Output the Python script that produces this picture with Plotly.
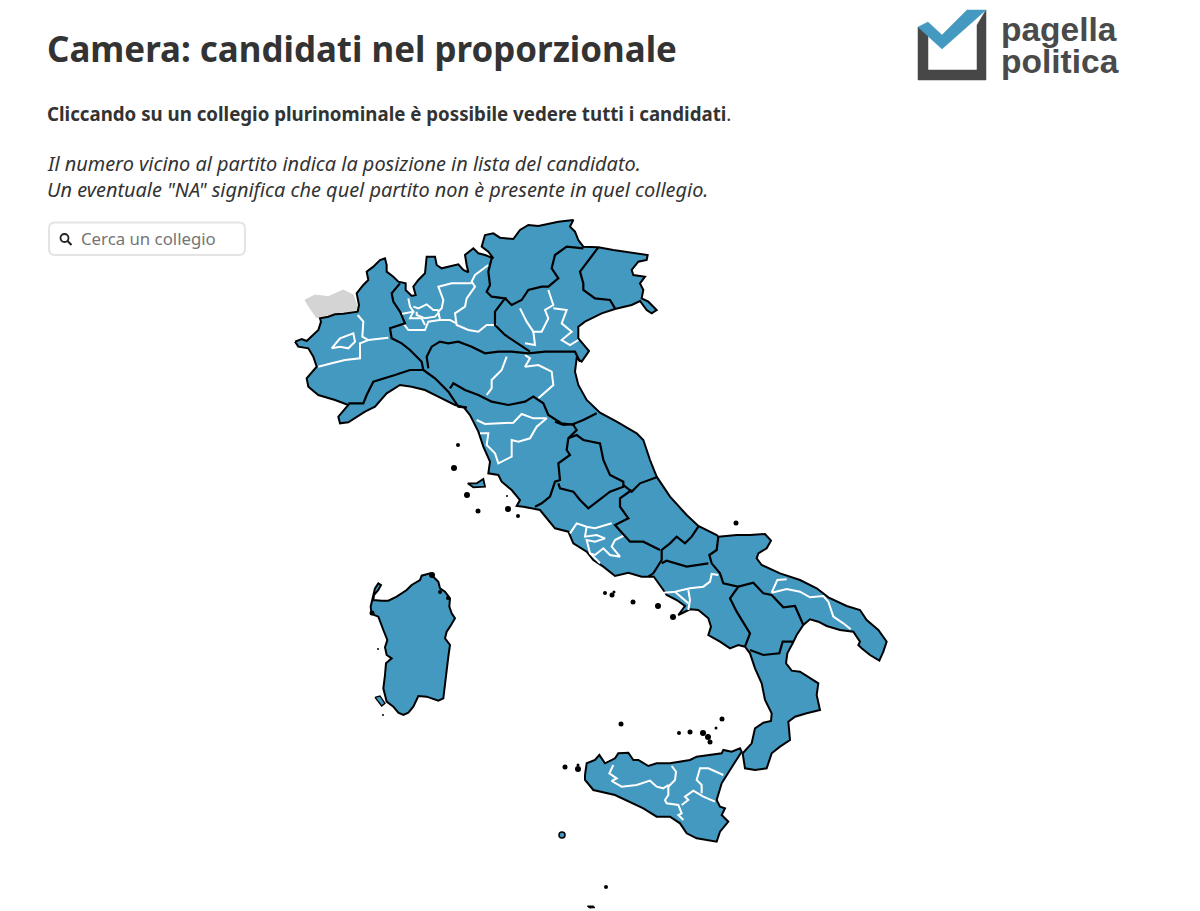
import plotly.graph_objects as go

BLUE = '#4499c1'
FONT = 'Noto Sans'

# crop origins of the zoomed views (3x) everything was read from
NORD = (285, 215)
CENTRO = (440, 400)
SUD = (640, 520)
SIC = (550, 700)
SARD = (350, 560)

coast_nord = [
    (30, 380), (50, 372), (65, 378), (85, 360), (100, 345), (108, 320), (105, 310), (130, 305), (150, 298),
    (175, 296), (200, 292), (218, 290), (222, 270), (215, 235), (235, 210), (250, 195), (245, 170), (265, 155),
    (285, 135), (300, 130), (305, 150), (305, 170), (325, 185), (340, 200), (362, 205), (362, 225), (380, 243),
    (392, 240), (385, 215), (400, 195), (420, 175), (425, 125), (450, 125), (455, 150), (470, 160), (490, 155),
    (520, 148), (535, 165), (550, 172), (545, 150), (540, 120), (565, 100), (580, 115), (600, 120), (625, 130),
    (610, 110), (590, 95), (600, 60), (625, 55), (645, 68), (685, 72), (705, 45), (730, 30), (760, 33),
    (785, 28), (820, 20), (865, 15), (855, 35), (870, 50), (880, 75), (895, 95), (940, 97), (985, 105),
    (1040, 112), (1088, 120), (1085, 135), (1060, 140), (1040, 165), (1045, 180), (1080, 185), (1065, 205),
    (1075, 225), (1070, 250), (1090, 260), (1115, 285), (1100, 295), (1085, 285), (1065, 258), (1040, 270),
    (990, 282), (950, 295), (900, 320), (880, 335), (880, 370), (912, 408), (890, 440), (875, 430), (870, 470),
    (880, 510), (905, 555), (940, 590),
]
coast_adriatico = [
    (480, 38), (530, 65), (590, 100), (610, 120), (630, 180), (650, 230), (690, 290), (740, 345), (775, 378),
    (830, 405),
]
coast_sud = [
    (235, 50), (290, 45), (330, 45), (375, 42), (393, 62), (380, 85), (355, 100), (350, 115), (365, 135),
    (420, 160), (480, 180), (530, 205), (565, 232), (620, 258), (660, 270), (680, 300), (715, 330), (740, 365),
    (730, 395), (718, 422), (690, 405), (665, 385), (655, 375), (660, 365), (640, 335), (600, 330), (560, 318),
    (535, 305), (510, 298), (490, 315), (470, 345), (458, 370), (442, 400), (438, 430), (455, 452), (480, 455),
    (510, 475), (535, 490), (530, 525), (540, 570), (500, 580), (465, 590), (445, 605), (450, 660), (420, 680),
    (395, 700), (380, 745), (345, 750), (315, 745), (308, 700), (335, 670), (345, 625), (370, 608), (393, 603),
    (395, 580), (375, 540), (365, 490), (345, 445), (330, 400), (315, 380), (295, 375), (270, 385), (240, 365),
    (205, 345), (213, 320), (205, 295), (175, 270), (150, 268), (115, 285), (135, 258), (110, 240), (80, 225),
    (70, 210), (55, 190), (40, 168),
]
coast_tirreno = [
    (640, 530), (605, 530), (565, 518), (525, 528), (490, 500), (460, 480), (440, 455), (400, 430), (385, 395),
    (345, 385), (325, 360), (300, 330), (250, 320), (230, 318), (240, 300), (215, 270), (185, 245), (175, 225),
    (145, 220), (150, 185), (130, 140), (115, 95), (90, 45), (70, 20),
]
coast_liguria = [
    (545, 578), (510, 570), (470, 550), (420, 525), (380, 515), (345, 510), (305, 535), (270, 575), (240, 590),
    (190, 622), (165, 625), (160, 605), (190, 570), (150, 555), (100, 540), (70, 515), (65, 490), (95, 455),
    (85, 425), (70, 400), (40, 395),
]
sardegna = [
    (75, 85), (85, 70), (93, 75), (85, 90), (72, 105), (70, 120), (95, 122), (115, 122), (140, 110), (170, 90),
    (185, 75), (210, 60), (215, 47), (240, 40), (250, 50), (265, 65), (270, 85), (285, 95), (300, 115), (298, 140),
    (305, 160), (315, 175), (300, 200), (290, 215), (285, 235), (300, 255), (295, 290), (290, 330), (285, 360),
    (282, 390), (280, 415), (265, 422), (230, 410), (205, 408), (190, 440), (175, 458), (160, 465), (145, 458),
    (130, 440), (110, 425), (100, 385), (105, 345), (108, 310), (125, 295), (110, 285), (105, 262), (112, 240),
    (100, 210), (85, 170), (65, 162), (62, 140),
]
sicilia = [
    (105, 225), (110, 190), (135, 180), (148, 165), (165, 190), (195, 175), (205, 160), (235, 158), (250, 180),
    (265, 180), (295, 198), (320, 190), (360, 190), (420, 180), (440, 170), (475, 165), (515, 160), (520, 150),
    (545, 155), (570, 145), (575, 155), (540, 210), (515, 250), (500, 300), (510, 320), (525, 325), (515, 345),
    (535, 365), (510, 395), (500, 425), (470, 420), (440, 415), (410, 400), (390, 370), (360, 350), (320, 350),
    (280, 325), (240, 305), (195, 285), (130, 270), (105, 240),
]
elba = [(83, 250), (110, 250), (130, 237), (135, 260), (100, 262)]
sant_antioco = [(75, 412), (90, 408), (105, 430), (95, 438)]
lampedusa = [(112, 618), (130, 618), (135, 623), (118, 624)]
valle_aosta = [
    (60, 255), (90, 240), (130, 245), (175, 225), (205, 240), (220, 285), (175, 292), (130, 300),
    (95, 308), (75, 280),
]

# small islands, page pixels
isl_x = [458, 454, 467, 478, 507, 508, 518, 605, 612, 614, 633, 658, 673, 736, 621, 679, 690, 703, 708,
         710, 716, 722, 565, 578, 578, 606, 378, 383, 432, 440, 448, 372]
isl_y = [445, 468, 495, 511, 496, 509, 516, 593, 595, 592, 602, 606, 617, 523, 724, 733, 732, 733, 737,
         742, 728, 719, 767, 765, 769, 887, 649, 715, 575, 592, 598, 613]
isl_size = [4, 6, 6, 5, 2, 6, 4, 4, 5, 3, 5, 6, 6, 5, 5, 4, 5, 6, 6, 5, 3, 5, 5, 3, 6, 4, 2, 2, 6, 4, 4, 5]
pantelleria_x = [562]
pantelleria_y = [835]

regioni_nord = [
    [(345, 205), (320, 235), (325, 260), (345, 290), (360, 325), (315, 340), (320, 370), (350, 385),
     (375, 405), (410, 440), (415, 465)],
    [(415, 465), (375, 465), (330, 480), (300, 490), (265, 500), (245, 540), (235, 565), (190, 565)],
    [(415, 465), (450, 490), (490, 530), (520, 575), (545, 578)],
    [(430, 460), (425, 425), (440, 395), (465, 380), (490, 385), (520, 380), (560, 395), (600, 415),
     (640, 410), (680, 410), (730, 415), (780, 410), (870, 410), (885, 440)],
    [(735, 410), (690, 380), (660, 360), (630, 330), (630, 290), (660, 250), (620, 245), (605, 230),
     (615, 210), (610, 170), (620, 130)],
    [(660, 250), (680, 270), (710, 255), (730, 225), (770, 215), (790, 215), (820, 190), (800, 160),
     (810, 120), (845, 95), (895, 100)],
    [(940, 97), (915, 130), (885, 170), (895, 205), (895, 225), (930, 250), (975, 255), (990, 280)],
    [(495, 520), (505, 505), (540, 525), (580, 540), (620, 560), (670, 570), (720, 560), (745, 545),
     (775, 565), (790, 600), (830, 625), (870, 630)],
]
regioni_centro = [
    [(345, 65), (370, 75), (400, 72), (430, 60), (470, 40)],
    [(400, 75), (410, 90), (385, 115), (380, 150), (390, 165), (355, 190), (360, 240), (345, 245),
     (330, 290), (305, 310), (285, 320)],
    [(385, 115), (410, 105), (430, 120), (480, 130), (490, 180), (510, 225), (550, 245), (550, 260),
     (510, 275), (470, 305), (445, 325), (420, 300), (400, 275), (360, 265), (355, 250)],
    [(550, 255), (575, 275), (600, 250), (650, 232)],
    [(575, 270), (540, 295), (540, 320), (565, 355), (525, 375), (570, 425), (610, 425), (660, 450)],
    [(775, 380), (755, 410), (735, 430), (710, 410), (690, 430), (665, 450), (665, 480), (640, 520),
     (625, 530)],
]
regioni_sud = [
    [(65, 130), (80, 122), (140, 140), (205, 130)],
    [(235, 50), (230, 90), (208, 105), (215, 130), (240, 160), (250, 190), (295, 200), (270, 235),
     (290, 275), (330, 340), (315, 380)],
    [(295, 200), (340, 188), (370, 220), (395, 225), (430, 262), (465, 258), (490, 315)],
    [(330, 390), (370, 405), (418, 400), (428, 365), (460, 365)],
]
collegi_nord = [
    [(218, 300), (235, 320), (232, 365), (250, 375), (310, 368)],
    [(250, 375), (225, 385), (225, 430), (180, 435), (140, 445), (100, 455)],
    [(140, 400), (165, 370), (205, 355), (210, 380), (190, 400), (165, 395), (140, 400)],
    [(610, 150), (570, 180), (560, 200), (570, 215), (545, 250), (540, 275), (510, 295), (515, 330),
     (550, 345), (580, 350), (605, 330), (635, 330)],
    [(560, 205), (500, 205), (460, 215), (475, 255), (470, 280), (460, 290), (465, 315), (430, 320),
     (420, 345), (385, 345), (370, 345), (355, 325)],
    [(465, 315), (495, 315), (515, 325)],
    [(370, 250), (375, 275), (385, 290), (345, 298)],
    [(385, 290), (375, 310), (410, 310), (420, 330)],
    [(385, 275), (400, 280), (425, 268), (445, 285), (460, 285)],
    [(395, 290), (395, 300), (420, 310), (450, 305), (460, 295)],
    [(790, 225), (805, 270), (780, 285), (790, 310), (770, 350), (745, 350), (725, 320), (705, 280)],
    [(745, 350), (750, 390), (720, 385)],
    [(805, 280), (845, 285), (830, 325), (860, 350), (830, 375), (855, 390), (880, 375)],
    [(665, 425), (650, 465), (620, 495), (620, 520), (605, 540)],
    [(720, 420), (735, 430), (720, 455), (760, 450), (800, 470), (805, 510), (760, 550)],
]
collegi_centro = [
    [(110, 60), (135, 72), (220, 68), (245, 42), (280, 55), (320, 55), (290, 80), (270, 115), (235, 125),
     (215, 120), (215, 170), (175, 190), (165, 160), (140, 135), (145, 100), (120, 100)],
    [(390, 400), (410, 370), (440, 380), (465, 385), (515, 370)],
    [(440, 380), (435, 410), (470, 405), (495, 415), (465, 425), (440, 420), (450, 460), (480, 490)],
    [(555, 405), (525, 420), (515, 440), (540, 470), (510, 465), (490, 445), (465, 465), (450, 460)],
    [(670, 578), (705, 575), (750, 565), (790, 560), (810, 545), (815, 522), (835, 525)],
    [(745, 570), (750, 600), (745, 630)],
    [(705, 575), (745, 610)],
]
collegi_sud = [
    [(395, 218), (412, 180), (440, 178)],
    [(395, 218), (440, 207), (480, 215), (510, 232), (550, 228), (565, 245), (580, 290), (610, 310),
     (632, 328)],
]
collegi_sic = [
    [(190, 195), (178, 220), (200, 235), (185, 243), (215, 260), (260, 255), (300, 242), (320, 260),
     (340, 265), (355, 255), (355, 285), (345, 300), (350, 310), (385, 315), (395, 340), (385, 345),
     (400, 360)],
    [(365, 198), (378, 215), (375, 240), (355, 260)],
    [(395, 315), (415, 300), (405, 290), (430, 272), (460, 290), (495, 305)],
    [(455, 280), (455, 255), (440, 240), (450, 205), (475, 205), (520, 225)],
]


def to_page(lines, origin):
    return [[(origin[0] + x / 3, origin[1] + y / 3) for x, y in line] for line in lines]


def xy(pts):
    return [p[0] for p in pts], [p[1] for p in pts]


def polygon(pts, fill, line_color, width):
    x, y = xy(pts + pts[:1])
    return go.Scatter(x=x, y=y, mode='lines', fill='toself', fillcolor=fill,
                      line=dict(color=line_color, width=width), hoverinfo='skip', showlegend=False)


def polylines(lines, color, width):
    x, y = [], []
    for line in lines:
        lx, ly = xy(line)
        x += lx + [None]
        y += ly + [None]
    return go.Scatter(x=x, y=y, mode='lines', line=dict(color=color, width=width), hoverinfo='skip',
                      showlegend=False)


coast = (to_page([coast_nord], NORD)[0] + to_page([coast_adriatico], CENTRO)[0] + to_page([coast_sud], SUD)[0]
         + to_page([coast_tirreno], CENTRO)[0] + to_page([coast_liguria], NORD)[0])
bianche = (to_page(collegi_nord, NORD) + to_page(collegi_centro, CENTRO) + to_page(collegi_sud, SUD)
           + to_page(collegi_sic, SIC))
nere = to_page(regioni_nord, NORD) + to_page(regioni_centro, CENTRO) + to_page(regioni_sud, SUD)

fig = go.Figure()
fig.add_trace(polygon(to_page([valle_aosta], NORD)[0], '#d4d4d4', '#d4d4d4', 1))
fig.add_trace(polygon(coast, BLUE, 'black', 2))
fig.add_trace(polygon(to_page([sardegna], SARD)[0], BLUE, 'black', 2))
fig.add_trace(polygon(to_page([sicilia], SIC)[0], BLUE, 'black', 2))
fig.add_trace(polygon(to_page([elba], CENTRO)[0], BLUE, 'black', 1.8))
fig.add_trace(polygon(to_page([sant_antioco], SARD)[0], BLUE, 'black', 1.3))
fig.add_trace(polygon(to_page([lampedusa], SIC)[0], 'black', 'black', 1))
fig.add_trace(polylines(bianche, 'white', 2))
fig.add_trace(polylines(nere, 'black', 2.2))
fig.add_trace(go.Scatter(x=isl_x, y=isl_y, mode='markers',
                         marker=dict(color='black', size=isl_size, opacity=1, line_width=0),
                         hoverinfo='skip', showlegend=False))
fig.add_trace(go.Scatter(x=pantelleria_x, y=pantelleria_y, mode='markers',
                         marker=dict(color=BLUE, size=6, line=dict(color='black', width=1.5)),
                         hoverinfo='skip', showlegend=False))

# logo
fig.add_trace(polygon([(918, 27), (928, 32), (928, 70), (977, 70), (977, 25), (986, 10), (986, 80), (918, 80)],
                      '#474747', '#474747', 0.5))
fig.add_trace(polygon([(918, 27), (928, 22), (942, 35), (967, 10), (986, 10), (942, 49)], BLUE, BLUE, 0.5))

# search box
fig.add_shape(type='path', path='M 55 222.5 L 239 222.5 Q 245 222.5 245 228.5 L 245 249 Q 245 255 239 255 '
                                'L 55 255 Q 49 255 49 249 L 49 228.5 Q 49 222.5 55 222.5 Z',
              line=dict(color='#e4e4e4', width=2), fillcolor='white')
fig.add_shape(type='circle', x0=60.5, x1=68.5, y0=234, y1=242, line=dict(color='#222222', width=1.8))
fig.add_shape(type='line', x0=67.5, x1=71.5, y0=241, y1=245, line=dict(color='#222222', width=2.2))


def label(x, y, text, size, color='#333333', family=FONT):
    fig.add_annotation(x=x, y=y, text=text, xanchor='left', yanchor='middle', showarrow=False,
                       font=dict(size=size, color=color, family=family), align='left')


label(45, 48, '<b>Camera: candidati nel proporzionale</b>', 34.9)
label(45, 113, '<b>Cliccando su un collegio plurinominale è possibile vedere tutti i candidati</b>.', 18.7)
label(45, 163, '<i>Il numero vicino al partito indica la posizione in lista del candidato.</i>', 19.9)
label(45, 189, '<i>Un eventuale "NA" significa che quel partito non è presente in quel collegio.</i>', 19.9)
label(79, 238, 'Cerca un collegio', 16.8, color='#757575')
label(999, 29, '<b>pagella</b>', 33.5, color='#4a4a4a', family='Liberation Sans')
label(999, 61, '<b>politica</b>', 33.5, color='#4a4a4a', family='Liberation Sans')

fig.update_layout(
    width=1200,
    height=911,
    margin=dict(l=0, r=0, t=0, b=0),
    paper_bgcolor='white',
    plot_bgcolor='white',
    xaxis=dict(visible=False, range=[0, 1200], fixedrange=True),
    yaxis=dict(visible=False, range=[911, 0], fixedrange=True),
)

fig.write_html("out.html", config=dict(displayModeBar=False), post_script="document.body.style.margin='0';")
